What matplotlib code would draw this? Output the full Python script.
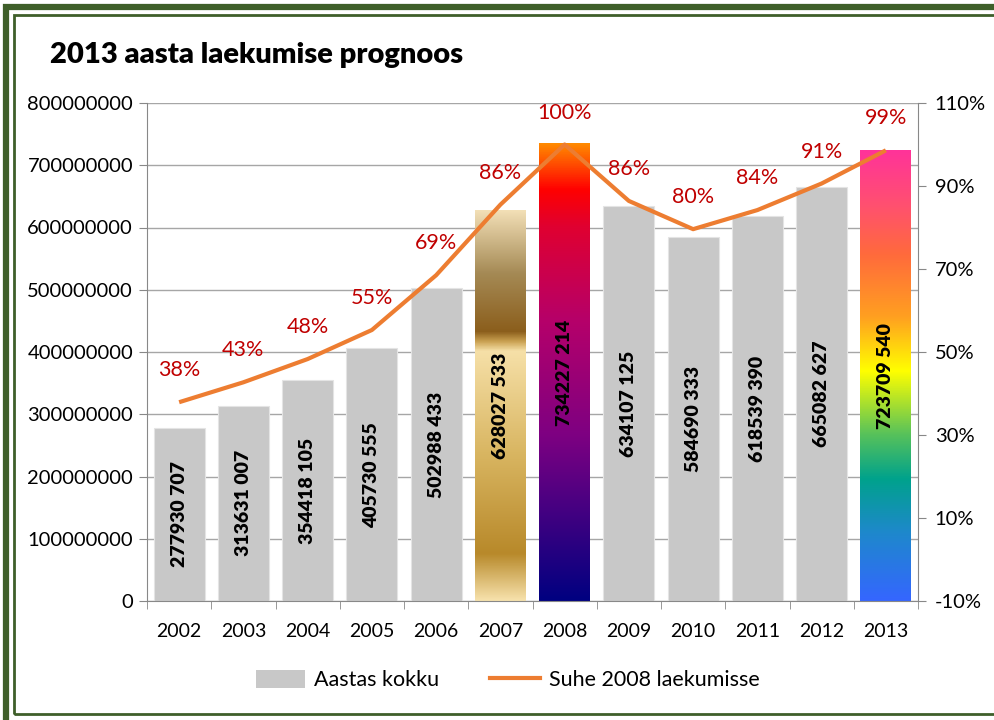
import numpy as np
import matplotlib
matplotlib.use("Agg")
import matplotlib.pyplot as plt
from matplotlib.colors import LinearSegmentedColormap
from matplotlib.patches import Rectangle, Patch
from matplotlib.lines import Line2D

years = ["2002", "2003", "2004", "2005", "2006", "2007", "2008",
         "2009", "2010", "2011", "2012", "2013"]
totals = [277930707, 313631007, 354418105, 405730555, 502988433, 628027533,
          734227214, 634107125, 584690333, 618539390, 665082627, 723709540]
ratio = [0.379, 0.427, 0.483, 0.553, 0.685, 0.855, 1.000,
         0.864, 0.796, 0.842, 0.906, 0.986]
ratio_labels = ["38%", "43%", "48%", "55%", "69%", "86%", "100%",
                "86%", "80%", "84%", "91%", "99%"]
left_ticks = [0, 100000000, 200000000, 300000000, 400000000,
              500000000, 600000000, 700000000, 800000000]
right_ticks = [-0.1, 0.1, 0.3, 0.5, 0.7, 0.9, 1.1]
title = "2013 aasta laekumise prognoos"
legend_labels = ["Aastas kokku", "Suhe 2008 laekumisse"]

FONT = ["Lato", "DejaVu Sans"]
plt.rcParams["font.family"] = FONT

GRAY = "#C8C8C8"
ORANGE = "#ED7D31"
RED = "#C00000"
GREEN = "#3F5F2A"

gradients = {
    "2007": [(0.0, "#F7E2AC"), (0.12, "#B8892A"), (0.38, "#D9B662"),
             (0.64, "#F6E0A8"), (0.665, "#C9A050"), (0.69, "#8B5E1C"),
             (0.84, "#A58A55"), (1.0, "#F2DFB6")],
    "2008": [(0.0, "#000080"), (0.36, "#7D0082"), (0.61, "#B5006A"),
             (0.82, "#E00030"), (0.90, "#FF0000"), (1.0, "#FF8A00")],
    "2013": [(0.0, "#3566FF"), (0.15, "#1E88CC"), (0.27, "#00A28C"),
             (0.37, "#58C25A"), (0.51, "#FFFF00"), (0.63, "#FFA020"),
             (0.77, "#FF6A3C"), (0.88, "#FF5070"), (1.0, "#FF3399")],
}

fig = plt.figure(figsize=(9.95, 7.2), dpi=100)
ax = fig.add_axes([147 / 995, 119 / 720, 771 / 995, 498 / 720])
ax2 = ax.twinx()

x = np.arange(len(years))
bars = ax.bar(x, totals, width=0.79, color=GRAY, edgecolor="#E4E4E4",
              linewidth=0.8, zorder=2)

grad = np.linspace(0, 1, 512).reshape(-1, 1)
for b, yr in zip(bars, years):
    if yr in gradients:
        cmap = LinearSegmentedColormap.from_list(yr, gradients[yr])
        x0, w, h = b.get_x(), b.get_width(), b.get_height()
        b.set_visible(False)
        ax.imshow(grad, cmap=cmap, origin="lower", aspect="auto",
                  extent=[x0, x0 + w, 0, h], zorder=2.5, interpolation="bilinear")

for b, v in zip(bars, totals):
    ax.text(b.get_x() + b.get_width() / 2, v / 2,
            f"{v // 1000} {v % 1000:03d}", rotation=90, ha="center",
            va="center", fontsize=14, fontweight="heavy", color="black", zorder=4)

ax.set_xlim(-0.5, len(years) - 0.5)
ax.set_ylim(0, 800000000)
ax.set_yticks(left_ticks)
ax.set_yticklabels([str(t) for t in left_ticks])
ax.set_xticks(x)
ax.set_xticklabels(years)
ax.set_xticks(np.arange(-0.5, len(years), 1.0), minor=True)
ax.tick_params(axis="x", which="major", length=0, labelsize=14, pad=16)
ax.tick_params(axis="x", which="minor", length=6, color="#888888", direction="out")
ax.tick_params(axis="y", length=6, color="#888888", labelsize=14.5, pad=4)
ax.grid(axis="y", color="#A6A6A6", linewidth=1.0, zorder=0)
ax.set_axisbelow(True)
for s in ["top", "right"]:
    ax.spines[s].set_visible(False)
ax.spines["left"].set_color("#888888")
ax.spines["bottom"].set_color("#888888")

ax2.plot(x, ratio, color=ORANGE, linewidth=3, zorder=5, solid_capstyle="butt")
for xi, r, lab in zip(x, ratio, ratio_labels):
    ax2.annotate(lab, (xi, r), xytext=(0, 23), textcoords="offset points",
                 ha="center", va="center", color=RED, fontsize=15.5, zorder=6)
ax2.set_ylim(-0.1, 1.1)
ax2.set_yticks(right_ticks)
ax2.set_yticklabels([f"{round(t * 100)}%" for t in right_ticks])
ax2.tick_params(axis="y", length=6, color="#888888", labelsize=14.5, pad=6)
for s in ["top", "left", "bottom"]:
    ax2.spines[s].set_visible(False)
ax2.spines["right"].set_color("#888888")

fig.text(50 / 995, 1 - 55 / 720, title, fontsize=21, fontweight="heavy",
         ha="left", va="center")

handles = [Patch(facecolor=GRAY, edgecolor="none"),
           Line2D([0], [0], color=ORANGE, linewidth=3)]
fig.legend(handles, legend_labels, loc="center", bbox_to_anchor=(0.51, 1 - 680 / 720),
           ncol=2, frameon=False, fontsize=15.5, handlelength=2.3,
           handleheight=0.95, columnspacing=2.4, handletextpad=0.4)

# double frame
fig.patches.append(Rectangle((6.5 / 995, -0.05), 1.2, 1 - 6.5 / 720 + 0.05,
                             transform=fig.transFigure, fill=False,
                             edgecolor=GREEN, linewidth=4.5, zorder=10))
fig.patches.append(Rectangle((14.5 / 995, (720 - 713.5) / 720), 1.2,
                             (713.5 - 14.5) / 720, transform=fig.transFigure,
                             fill=False, edgecolor=GREEN, linewidth=2, zorder=10))

fig.savefig("out.png", dpi=100)
